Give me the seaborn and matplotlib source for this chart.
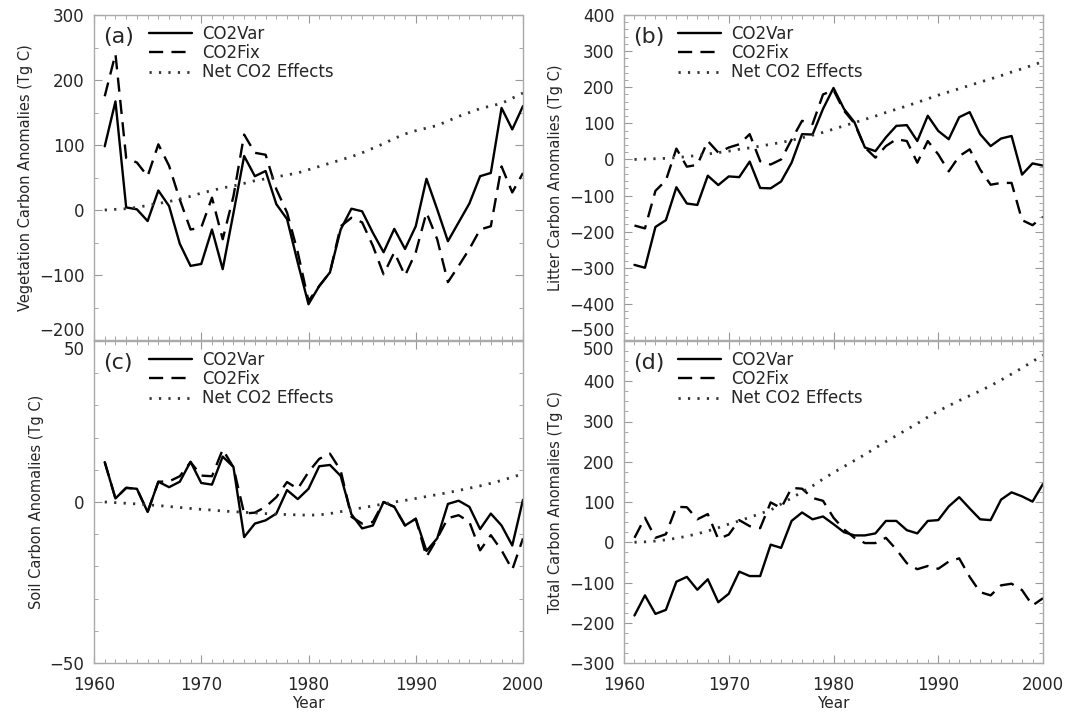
import numpy as np
import pandas as pd
import seaborn as sns
import matplotlib
matplotlib.use("Agg")
import matplotlib.pyplot as plt
from matplotlib.ticker import MultipleLocator

sns.set_style("ticks")
plt.rcParams['font.family'] = ['DejaVu Sans']

years = list(range(1961, 2001))

# (a) vegetation
veg_var = [98, 167, 4, 1, -17, 30, 6, -52, -86, -83, -30, -91, -5, 83, 52, 60, 9, -14, -81, -145,
           -117, -96, -30, 2, -2, -35, -65, -29, -60, -25, 48, 1, -48, -19, 10, 52, 57, 157, 124, 160]
veg_fix = [175, 240, 80, 73, 52, 101, 68, 16, -30, -27, 19, -45, 21, 116, 88, 85, 32, -4, -65, -140,
           -117, -96, -25, -12, -19, -55, -99, -65, -101, -65, -4, -45, -111, -86, -60, -30, -25, 67, 27, 57]
veg_net = [0, 1, 2, 4, 7, 10, 13, 17, 21, 26, 30, 34, 37, 41, 45, 48, 51, 54, 57, 62,
           67, 72, 77, 82, 88, 95, 102, 110, 117, 122, 126, 130, 137, 144, 150, 156, 160, 164, 172, 180]

# (b) litter
lit_var = [-292, -300, -187, -168, -77, -122, -126, -45, -71, -47, -49, -6, -79, -80, -61, -9, 70, 69, 140, 198,
           140, 103, 33, 23, 61, 93, 95, 51, 121, 79, 56, 117, 131, 70, 37, 58, 65, -42, -11, -17]
lit_fix = [-183, -191, -87, -58, 30, -20, -15, 51, 19, 33, 42, 70, -5, -14, 0, 55, 107, 98, 180, 192,
           135, 100, 33, 5, 37, 56, 51, -9, 51, 14, -33, 9, 28, -28, -70, -65, -65, -168, -182, -159]
lit_net = [0, 1, 2, 3, 5, 8, 11, 15, 19, 23, 28, 32, 37, 42, 47, 53, 60, 67, 75, 84,
           93, 102, 111, 120, 130, 139, 148, 158, 168, 178, 187, 196, 205, 214, 223, 232, 242, 251, 261, 271]

# (c) soil
soil_var = [12.4, 1.1, 4.4, 4.1, -3.1, 6.3, 4.6, 6.3, 12.5, 5.9, 5.4, 14.1, 10.9, -10.9, -6.7, -5.7, -3.6, 3.7, 0.9, 4.1,
            11.1, 11.5, 8.1, -3.8, -8.2, -7.3, 0.0, -1.5, -7.3, -5.2, -15.2, -11.3, -0.6, 0.4, -1.5, -8.4, -3.6, -7.3, -13.5, 0.7]
soil_fix = [12.4, 1.1, 4.4, 4.1, -3.1, 6.3, 6.4, 8.0, 12.4, 8.2, 8.0, 16.3, 10.8, -3.6, -3.3, -1.5, 1.5, 6.2, 4.1, 9.3,
            13.4, 15.0, 9.8, -4.6, -6.7, -6.2, 0.0, -1.5, -7.3, -5.2, -17.0, -11.3, -5.0, -4.1, -6.2, -15.0, -10.3, -15.0, -21.0, -11.3]
soil_net = [0, -0.2, -0.4, -0.6, -0.9, -1.1, -1.4, -1.7, -2.0, -2.3, -2.5, -2.8, -3.0, -3.2, -3.4, -3.6, -3.8, -3.9, -4.0, -4.1,
            -4.0, -3.6, -3.0, -2.4, -1.8, -1.2, -0.6, 0.0, 0.5, 1.1, 1.7, 2.3, 2.9, 3.6, 4.3, 5.0, 5.8, 6.7, 7.7, 8.8]

# (d) total
tot_var = [-182, -132, -178, -168, -98, -86, -118, -92, -149, -128, -73, -84, -84, -6, -14, 53, 74, 57, 64, 45,
           25, 17, 17, 22, 53, 53, 30, 22, 53, 55, 89, 112, 84, 57, 55, 106, 124, 114, 101, 145]
tot_fix = [11, 61, 11, 20, 88, 87, 57, 70, 8, 19, 55, 40, 35, 99, 85, 135, 133, 110, 103, 61,
           32, 11, -2, -2, 11, -18, -52, -67, -59, -66, -48, -40, -86, -124, -132, -107, -103, -119, -157, -139]
tot_net = [0, 1, 3, 6, 10, 15, 21, 28, 36, 45, 53, 62, 71, 80, 95, 110, 125, 140, 157, 173,
           188, 203, 218, 234, 250, 265, 280, 295, 311, 326, 339, 352, 364, 376, 389, 403, 418, 433, 449, 465]

panels = [
    ("(a)", "Vegetation Carbon Anomalies (Tg C)", veg_var, veg_fix, veg_net, (-200, 300), 100, 50),
    ("(b)", "Litter Carbon Anomalies (Tg C)", lit_var, lit_fix, lit_net, (-500, 400), 100, 20),
    ("(c)", "Soil Carbon Anomalies (Tg C)", soil_var, soil_fix, soil_net, (-50, 50), 50, 10),
    ("(d)", "Total Carbon Anomalies (Tg C)", tot_var, tot_fix, tot_net, (-300, 500), 100, 25),
]

W, H = 1068, 715
fig = plt.figure(figsize=(W / 100, H / 100), dpi=100)
boxes = [(94, 15, 523, 340), (624, 15, 1043, 340), (94, 341, 523, 663), (624, 341, 1043, 663)]

axes = []
for i, (tag, ylab, v, f, n, ylim, major, minor) in enumerate(panels):
    x0, y0, x1, y1 = boxes[i]
    ax = fig.add_axes([x0 / W, 1 - y1 / H, (x1 - x0) / W, (y1 - y0) / H])
    axes.append(ax)
    df = pd.DataFrame({"Year": years, "CO2Var": v, "CO2Fix": f, "Net": n})
    sns.lineplot(data=df, x="Year", y="CO2Var", ax=ax, color="black", lw=1.7, label="CO2Var")
    sns.lineplot(data=df, x="Year", y="CO2Fix", ax=ax, color="black", lw=1.7,
                 linestyle=(0, (6, 3.5)), label="CO2Fix")
    sns.lineplot(data=df, x="Year", y="Net", ax=ax, color="#333333", lw=2.0,
                 linestyle=(0, (0.8, 2.6)), label="Net CO2 Effects")
    ax.set_xlim(1960, 2000)
    ax.set_ylim(*ylim)
    ax.xaxis.set_major_locator(MultipleLocator(10))
    ax.xaxis.set_minor_locator(MultipleLocator(1))
    ax.yaxis.set_major_locator(MultipleLocator(major))
    ax.yaxis.set_minor_locator(MultipleLocator(minor))
    ax.tick_params(which="both", direction="in", top=True, right=True, color="#999999",
                   labelsize=12)
    ax.tick_params(axis="y", pad=7)
    ax.tick_params(axis="x", pad=9)
    ax.tick_params(which="major", length=6)
    ax.tick_params(which="minor", length=3)
    for s in ax.spines.values():
        s.set_color("#aaaaaa")
        s.set_linewidth(1.0)
        s.set_linestyle((0, (2, 1)))
    ax.set_ylabel(ylab, fontsize=10.5, labelpad=4)
    if i < 2:
        ax.set_xlabel("")
        ax.tick_params(labelbottom=False)
    else:
        ax.set_xlabel("Year", fontsize=11, labelpad=2)
    ax.text(0.022, 0.962, tag, transform=ax.transAxes, fontsize=16, va="top", ha="left")
    ax.legend(loc="upper left", bbox_to_anchor=(0.1, 1.006), frameon=False, fontsize=12,
              handlelength=2.6, handletextpad=0.6, labelspacing=0.08, borderaxespad=0.3)

# keep the touching end labels of stacked panels apart
fig.canvas.draw()
for i, ax in enumerate(axes):
    lo, hi = ax.get_ylim()
    for t in ax.yaxis.get_major_ticks():
        loc = t.get_loc()
        if i < 2 and abs(loc - lo) < 1e-6:
            t.label1.set_verticalalignment("bottom")
        if i >= 2 and abs(loc - hi) < 1e-6:
            t.label1.set_verticalalignment("top")

fig.savefig("out.png", dpi=100)
